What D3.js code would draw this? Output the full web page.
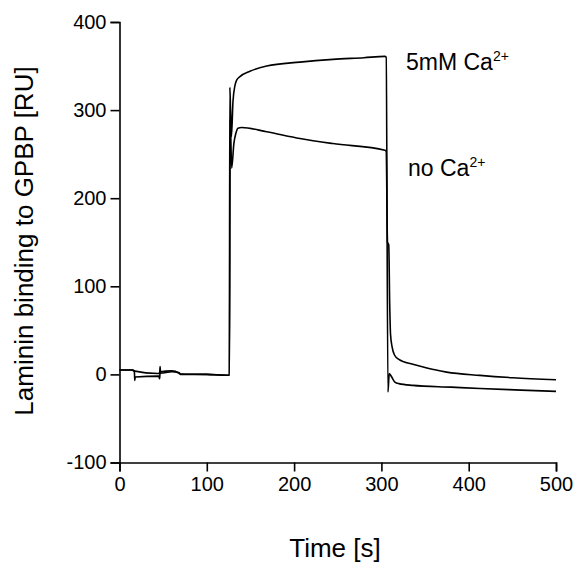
<!DOCTYPE html>
<html>
<head>
<meta charset="utf-8">
<script src="https://cdn.jsdelivr.net/npm/d3@7"></script>
<style>
  body { margin: 0; background: #fff; }
  text { font-family: "Liberation Sans", Arial, sans-serif; fill: #000; }
</style>
</head>
<body>
<div id="chart"></div>
<script>
// Data: [time (s), response (RU)]
const caCurve = [
  [0, 5], [15, 5], [16, 4], [44, 1], [46, 1.5], [46.5, 9], [47, 1.5], [60, 3], [68, 2],
  [70, 0.5], [100, 0], [124, -1], [125.8, -1], [126.4, 326], [127.2, 300], [128.2, 270],
  [130, 310], [132.3, 328], [134.2, 334], [138, 338], [149.4, 344], [168.6, 350],
  [206.7, 354.5], [244.5, 357.6], [280, 359.5], [304, 361], [305.5, 360], [307.5, -20],
  [309, 1], [311.8, -3], [315.5, -8.7], [320, -10.5], [336, -12.5], [380, -14.5],
  [413, -16], [460, -17.8], [500, -19.3]
];
const noCaCurve = [
  [0, 5], [15, 5], [17, 4], [17.5, -7], [18, -3], [45, -2], [46, -5], [46.5, 3],
  [60, 4], [68, 1.5], [70, 0], [100, 0], [124, -1], [126, -1], [126.8, 290],
  [128.5, 234], [131, 262], [133.4, 274], [135.7, 279.5], [139.9, 280.3],
  [168.6, 275.4], [206.7, 267.8], [244.5, 262], [304, 254.5], [305.5, 253],
  [307, 150], [308.4, 147], [309.5, 80], [310.5, 45], [312.3, 31], [315, 22],
  [320, 17], [336, 11.4], [360, 5.5], [374.7, 2.6], [412.8, -1.1], [450.6, -3.8], [500, -6]
];
const xTicks = [0, 100, 200, 300, 400, 500];
const yTicks = [-100, 0, 100, 200, 300, 400];
const labels = [
  { name: "5mM Ca", x: 406, y: 70 },
  { name: "no Ca", x: 408, y: 176 }
];

const width = 575;
const height = 565;

const xScale = d3.scaleLinear().domain([0, 500]).range([119.5, 556]);
const yScale = d3.scaleLinear().domain([-100, 400]).range([462.5, 22]);

const svg = d3
  .select("#chart")
  .append("svg")
  .attr("width", width)
  .attr("height", height);

// axes
const xAxis = d3.axisBottom(xScale).tickValues(xTicks).tickSize(9).tickPadding(5).tickFormat((d) => String(d));
const yAxis = d3.axisLeft(yScale).tickValues(yTicks).tickSize(9).tickPadding(4).tickFormat((d) => String(d));

const gx = svg
  .append("g")
  .attr("transform", "translate(0," + yScale(-100) + ")")
  .call(xAxis);
const gy = svg
  .append("g")
  .attr("transform", "translate(" + xScale(0) + ",0)")
  .call(yAxis);

[gx, gy].forEach((g) => {
  g.select(".domain").attr("stroke", "#000").attr("stroke-width", 1.6);
  g.selectAll(".tick line").attr("stroke", "#000").attr("stroke-width", 1.6);
  g.selectAll(".tick text")
    .style("font-family", '"Liberation Sans", Arial, sans-serif')
    .style("font-size", "20px")
    .attr("fill", "#000");
});

// curves
const line = d3
  .line()
  .curve(d3.curveMonotoneX)
  .x((d) => xScale(d[0]))
  .y((d) => yScale(d[1]));

svg
  .selectAll("path.curve")
  .data([caCurve, noCaCurve])
  .enter()
  .append("path")
  .attr("class", "curve")
  .attr("d", line)
  .attr("fill", "none")
  .attr("stroke", "#000")
  .attr("stroke-width", 1.6)
  .attr("stroke-linejoin", "round");

// curve labels
labels.forEach((l) => {
  const t = svg
    .append("text")
    .attr("x", l.x)
    .attr("y", l.y)
    .style("font-size", "23px");
  t.append("tspan").text(l.name);
  t.append("tspan")
    .attr("dy", -9)
    .style("font-size", "14px")
    .text("2+");
});

// axis titles
svg
  .append("text")
  .attr("x", 335)
  .attr("y", 557)
  .attr("text-anchor", "middle")
  .style("font-size", "26px")
  .text("Time [s]");

svg
  .append("text")
  .attr("transform", "translate(33,241) rotate(-90)")
  .attr("text-anchor", "middle")
  .style("font-size", "26px")
  .text("Laminin binding to GPBP [RU]");
</script>
</body>
</html>
